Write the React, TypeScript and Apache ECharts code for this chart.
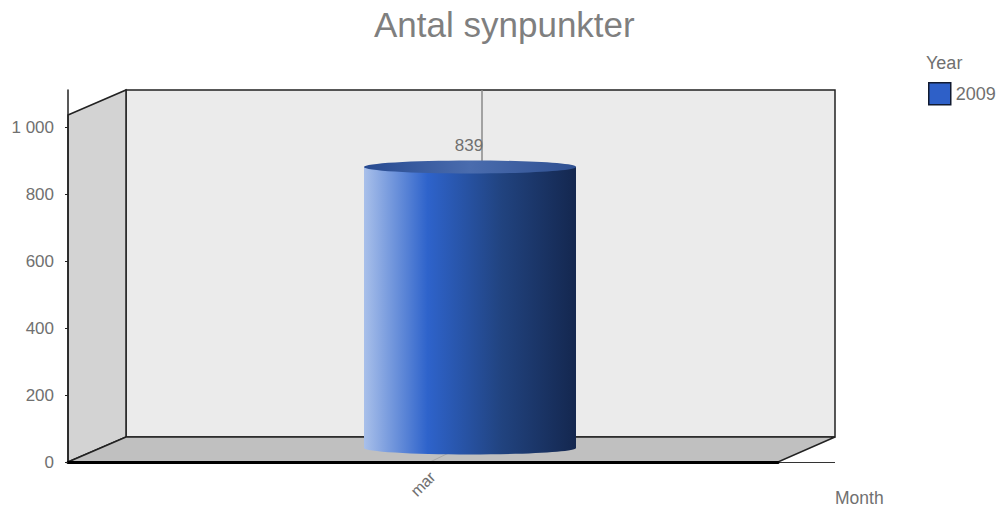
import React, { useEffect, useRef } from "react";
import * as echarts from "echarts";

const titleText = "Antal synpunkter";
const categories = ["mar"];
const seriesName = "2009";
const values = [839];
const tickValues = [0, 200, 400, 600, 800, 1000];
const xName = "Month";
const legendTitle = "Year";

const FONT = "'Liberation Sans', Arial, sans-serif";
const GREY = "#707070";
const EDGE = "#222222";
const DX = 57;
const DY = 25;
const CYL_RX = 106;
const CYL_RY = 6.5;
const CYL_SHIFT_X = 47;
const CYL_SHIFT_Y = -14;

function label(v: number) {
  if (!tickValues.includes(v)) return "";
  return v >= 1000 ? String(v).replace(/(\d)(\d{3})$/, "$1 $2") : String(v);
}

const line = (x1: number, y1: number, x2: number, y2: number, stroke: string, lineWidth: number) => ({
  type: "line",
  shape: { x1, y1, x2, y2 },
  style: { stroke, lineWidth },
  silent: true,
});

function renderBackdrop(params: any, api: any) {
  const cs = params.coordSys;
  const x0 = cs.x;
  const x1 = cs.x + cs.width;
  const yB = cs.y + cs.height;
  const yT = cs.y;
  const wallTop = yT + DY;
  const catX = api.coord([0, 0])[0];
  const edge = { stroke: EDGE, lineWidth: 1.5 };
  return {
    type: "group",
    children: [
      { type: "rect", shape: { x: x0 + DX + 1, y: yT, width: x1 - x0 - 1, height: yB - DY - yT }, style: { fill: "#ebebeb", ...edge } },
      { type: "polygon", shape: { points: [[x0, wallTop], [x0 + DX + 1, yT], [x0 + DX + 1, yB - DY], [x0, yB]] }, style: { fill: "#d3d3d3", ...edge } },
      { type: "polygon", shape: { points: [[x0, yB], [x0 + DX + 1, yB - DY], [x1 + DX, yB - DY], [x1, yB]] }, style: { fill: "#c0c0c0", ...edge } },
      line(x1, yB + 0.5, x1 + DX, yB + 0.5, "#333333", 1),
      line(catX + 7, yB, catX + DX + 2, yB - DY, "#a8a8a8", 1),
      line(catX + DX + 2, yB - DY, catX + DX + 2, yT, "#8a8a8a", 1.5),
    ],
  };
}

function renderCylinder(params: any, api: any) {
  const idx = api.value(0);
  const val = api.value(1);
  const base = api.coord([idx, 0]);
  const top = api.coord([idx, val]);
  const cx = base[0] + CYL_SHIFT_X;
  const yBase = base[1] + CYL_SHIFT_Y;
  const yTop = top[1] + CYL_SHIFT_Y;
  const side = new echarts.graphic.LinearGradient(0, 0, 1, 0, [
    { offset: 0, color: "#a9c0ea" },
    { offset: 0.3, color: "#2e63cb" },
    { offset: 0.65, color: "#21437f" },
    { offset: 1, color: "#14274f" },
  ]);
  const cap = new echarts.graphic.LinearGradient(0, 0, 1, 0, [
    { offset: 0, color: "#274a90" },
    { offset: 0.5, color: "#4a6cae" },
    { offset: 1, color: "#2f5091" },
  ]);
  return {
    type: "group",
    children: [
      { type: "ellipse", shape: { cx, cy: yBase, rx: CYL_RX, ry: CYL_RY }, style: { fill: side } },
      { type: "rect", shape: { x: cx - CYL_RX, y: yTop, width: CYL_RX * 2, height: yBase - yTop }, style: { fill: side } },
      { type: "ellipse", shape: { cx, cy: yTop, rx: CYL_RX, ry: CYL_RY }, style: { fill: cap } },
      {
        type: "text",
        style: {
          x: cx - 1,
          y: yTop - 21,
          text: String(val),
          fill: GREY,
          font: `17px ${FONT}`,
          align: "center",
          verticalAlign: "middle",
        },
      },
    ],
  };
}

export default function App() {
  const ref = useRef<HTMLDivElement>(null);
  useEffect(() => {
    document.body.style.margin = "0";
    const chart = echarts.init(ref.current!, undefined, { renderer: "svg" });
    chart.setOption({
      animation: false,
      backgroundColor: "#ffffff",
      title: {
        text: titleText,
        left: 369,
        top: 2,
        textStyle: { fontFamily: FONT, fontSize: 35, fontWeight: "normal", color: "#7f7f7f" },
      },
      grid: { left: 68, top: 90, width: 710, height: 372, containLabel: false },
      legend: {
        left: 923,
        top: 77,
        itemWidth: 22,
        itemHeight: 22,
        itemGap: 0,
        selectedMode: false,
        formatter: "{name}",
        textStyle: { fontFamily: FONT, fontSize: 18, color: GREY, padding: [0, 0, 0, 0] },
        data: [
          {
            name: seriesName,
            icon: "rect",
            itemStyle: { color: "#2e60c8", borderColor: "#111a30", borderWidth: 1.5 },
          },
        ],
      },
      xAxis: {
        type: "category",
        data: categories,
        z: 5,
        axisLine: { lineStyle: { color: "#000000", width: 3 } },
        axisTick: { show: false },
        axisLabel: {
          rotate: 45,
          margin: 22,
          align: "center",
          verticalAlign: "middle",
          color: GREY,
          fontFamily: FONT,
          fontSize: 16,
        },
      },
      yAxis: {
        type: "value",
        min: 0,
        max: 372 / 0.335,
        interval: 200,
        z: 5,
        splitLine: { show: false },
        axisLine: { show: true, lineStyle: { color: EDGE, width: 1.5 } },
        axisTick: { show: true, length: 3, lineStyle: { color: EDGE } },
        axisLabel: {
          margin: 14,
          color: GREY,
          fontFamily: FONT,
          fontSize: 17,
          showMaxLabel: false,
          formatter: (v: number) => label(v),
        },
      },
      graphic: [
        { type: "text", left: 835, top: 489, style: { text: xName, fill: GREY, font: `17.5px ${FONT}` } },
        { type: "text", left: 926, top: 54, style: { text: legendTitle, fill: GREY, font: `18px ${FONT}` } },
      ],
      series: [
        {
          type: "custom",
          name: "walls",
          z: 1,
          silent: true,
          clip: false,
          renderItem: renderBackdrop,
          data: [[0, 0]],
          encode: { x: 0, y: 1 },
        },
        {
          type: "custom",
          name: seriesName,
          z: 6,
          silent: true,
          clip: false,
          renderItem: renderCylinder,
          data: values.map((v, i) => [i, v]),
          encode: { x: 0, y: 1 },
        },
      ],
    });
    return () => chart.dispose();
  }, []);
  return <div ref={ref} style={{ position: "fixed", left: 0, top: 0, width: 1000, height: 512 }} />;
}
